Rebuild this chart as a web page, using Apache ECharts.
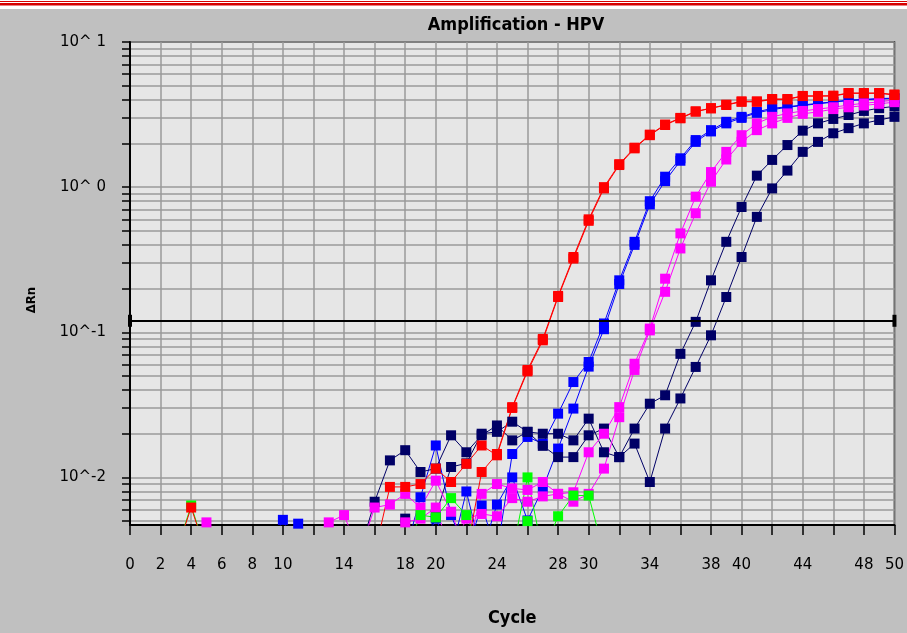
<!DOCTYPE html>
<html>
<head>
<meta charset="utf-8">
<title>Amplification - HPV</title>
<script src="https://cdn.jsdelivr.net/npm/echarts@6/dist/echarts.min.js"></script>
<style>
  html, body { margin: 0; padding: 0; background: #ffffff; }
  #chart { width: 907px; height: 633px; }
</style>
</head>
<body>
<div id="chart"></div>
<script>
// cycle numbers, one value per cycle in every series below
var cycles = [1, 2, 3, 4, 5, 6, 7, 8, 9, 10,
              11, 12, 13, 14, 15, 16, 17, 18, 19, 20,
              21, 22, 23, 24, 25, 26, 27, 28, 29, 30,
              31, 32, 33, 34, 35, 36, 37, 38, 39, 40,
              41, 42, 43, 44, 45, 46, 47, 48, 49, 50];

// 0.003 = below the bottom of the plot (not visible)
var red1 = [0.003, 0.003, 0.003, 0.0062, 0.003, 0.003, 0.003, 0.003, 0.003, 0.003,
            0.003, 0.003, 0.003, 0.003, 0.003, 0.003, 0.0086, 0.0086, 0.009, 0.0115,
            0.0093, 0.0124, 0.0166, 0.0142, 0.0301, 0.0538, 0.088, 0.175, 0.322, 0.586,
            0.98, 1.42, 1.85, 2.28, 2.68, 2.98, 3.31, 3.49, 3.68, 3.87,
            3.87, 4.02, 4.02, 4.24, 4.24, 4.24, 4.43, 4.43, 4.43, 4.31];
var red2 = [0.003, 0.003, 0.003, 0.003, 0.003, 0.003, 0.003, 0.003, 0.003, 0.003,
            0.003, 0.003, 0.003, 0.003, 0.003, 0.003, 0.003, 0.003, 0.003, 0.003,
            0.003, 0.003, 0.0109, 0.0145, 0.0305, 0.055, 0.09, 0.178, 0.33, 0.6,
            1.0, 1.44, 1.87, 2.3, 2.7, 3.0, 3.33, 3.5, 3.7, 3.9,
            3.9, 4.05, 4.05, 4.25, 4.25, 4.27, 4.45, 4.45, 4.45, 4.35];
var blue1 = [0.003, 0.003, 0.003, 0.003, 0.003, 0.003, 0.003, 0.003, 0.003, 0.0051,
             0.003, 0.003, 0.003, 0.003, 0.003, 0.003, 0.003, 0.003, 0.0073, 0.0166,
             0.0055, 0.003, 0.0064, 0.003, 0.0145, 0.019, 0.0171, 0.0275, 0.0454, 0.0624,
             0.115, 0.228, 0.42, 0.8, 1.18, 1.58, 2.11, 2.47, 2.82, 3.05,
             3.3, 3.49, 3.58, 3.68, 3.78, 3.87, 3.98, 4.02, 4.08, 4.1];
var blue2 = [0.003, 0.003, 0.003, 0.003, 0.003, 0.003, 0.003, 0.003, 0.003, 0.003,
             0.0048, 0.003, 0.003, 0.003, 0.003, 0.003, 0.003, 0.003, 0.003, 0.0052,
             0.003, 0.008, 0.003, 0.0065, 0.01, 0.00505, 0.0084, 0.0158, 0.0298, 0.058,
             0.105, 0.215, 0.4, 0.76, 1.1, 1.52, 2.05, 2.42, 2.75, 3.0,
             3.25, 3.42, 3.55, 3.65, 3.75, 3.85, 3.95, 4.0, 4.05, 4.08];
var magenta1 = [0.003, 0.003, 0.003, 0.003, 0.0049, 0.003, 0.003, 0.003, 0.003, 0.003,
                0.003, 0.003, 0.0049, 0.0055, 0.003, 0.0062, 0.0065, 0.0077, 0.0062, 0.0095,
                0.0058, 0.003, 0.0077, 0.009, 0.0084, 0.0082, 0.0093, 0.0077, 0.0079, 0.0149,
                0.02, 0.0305, 0.0607, 0.106, 0.234, 0.48, 0.86, 1.27, 1.75, 2.28,
                2.75, 3.05, 3.22, 3.35, 3.45, 3.55, 3.68, 3.78, 3.87, 3.98];
var magenta2 = [0.003, 0.003, 0.003, 0.003, 0.003, 0.003, 0.003, 0.003, 0.003, 0.003,
                0.003, 0.003, 0.003, 0.003, 0.003, 0.003, 0.003, 0.0049, 0.0052, 0.0062,
                0.003, 0.0052, 0.0056, 0.0054, 0.0072, 0.0068, 0.0074, 0.0077, 0.0068, 0.0077,
                0.0115, 0.026, 0.055, 0.103, 0.19, 0.378, 0.66, 1.09, 1.55, 2.05,
                2.47, 2.75, 3.0, 3.2, 3.3, 3.45, 3.55, 3.65, 3.75, 3.85];
var navy1 = [0.003, 0.003, 0.003, 0.003, 0.003, 0.003, 0.003, 0.003, 0.003, 0.003,
             0.003, 0.003, 0.003, 0.003, 0.003, 0.0068, 0.0131, 0.0154, 0.0109, 0.0115,
             0.0195, 0.0149, 0.0195, 0.0228, 0.018, 0.0206, 0.02, 0.02, 0.018, 0.0254,
             0.0149, 0.0138, 0.0217, 0.0322, 0.0368, 0.071, 0.118, 0.228, 0.42, 0.73,
             1.2, 1.54, 1.95, 2.45, 2.75, 2.95, 3.14, 3.35, 3.5, 3.6];
var navy2 = [0.003, 0.003, 0.003, 0.003, 0.003, 0.003, 0.003, 0.003, 0.003, 0.003,
             0.003, 0.003, 0.003, 0.003, 0.003, 0.003, 0.003, 0.0052, 0.003, 0.0055,
             0.0118, 0.0125, 0.02, 0.0206, 0.0242, 0.0206, 0.0165, 0.0138, 0.0138, 0.0195,
             0.0217, 0.0138, 0.0171, 0.0093, 0.0217, 0.035, 0.0577, 0.0953, 0.175, 0.33,
             0.624, 0.98, 1.3, 1.75, 2.05, 2.35, 2.55, 2.75, 2.9, 3.05];
var green1 = [0.003, 0.003, 0.003, 0.0064, 0.003, 0.003, 0.003, 0.003, 0.003, 0.003,
              0.003, 0.003, 0.003, 0.003, 0.003, 0.003, 0.003, 0.003, 0.0055, 0.0053,
              0.0072, 0.0055, 0.003, 0.003, 0.003, 0.01, 0.003, 0.0054, 0.0075, 0.0075,
              0.003, 0.003, 0.003, 0.003, 0.003, 0.003, 0.003, 0.003, 0.003, 0.003,
              0.003, 0.003, 0.003, 0.003, 0.003, 0.003, 0.003, 0.003, 0.003, 0.003];
var green2 = [0.003, 0.003, 0.003, 0.003, 0.003, 0.003, 0.003, 0.003, 0.003, 0.003,
              0.003, 0.003, 0.003, 0.003, 0.003, 0.003, 0.003, 0.003, 0.003, 0.003,
              0.003, 0.003, 0.003, 0.003, 0.003, 0.005, 0.003, 0.003, 0.003, 0.003,
              0.003, 0.003, 0.003, 0.003, 0.003, 0.003, 0.003, 0.003, 0.003, 0.003,
              0.003, 0.003, 0.003, 0.003, 0.003, 0.003, 0.003, 0.003, 0.003, 0.003];

var threshold = 0.121;
var xLabels = [0, 2, 4, 6, 8, 10, 14, 18, 20, 24, 28, 30, 34, 38, 40, 44, 48, 50];
var yLabels = [0.01, 0.1, 1, 10];

// gridlines / ticks at 1..9 of every decade
var yMin = 0.0047, yMax = 10;
var yGrid = [];
for (var e = -3; e <= 1; e++) {
    for (var m = 1; m <= 9; m++) {
        var v = +(m * Math.pow(10, e)).toPrecision(3);
        if (v >= yMin && v <= yMax) yGrid.push(v);
    }
}

function pairs(arr) {
    return cycles.map(function (c, i) { return [c, arr[i]]; });
}

function line(name, color, arr) {
    return {
        name: name,
        type: 'line',
        data: pairs(arr),
        symbol: 'rect',
        symbolSize: 10,
        showAllSymbol: true,
        clip: true,
        lineStyle: { color: color, width: 1 },
        itemStyle: { color: color },
        z: 3
    };
}

var font = 'DejaVu Sans';
var boldFont = '"DejaVu Sans Condensed", "DejaVu Sans"';
var chart = echarts.init(document.getElementById('chart'));

chart.setOption({
    animation: false,
    backgroundColor: '#c0c0c0',
    title: {
        text: 'Amplification - HPV',
        left: 511,
        top: 11,
        textAlign: 'center',
        textStyle: { fontFamily: boldFont, fontWeight: 'bold', fontSize: 18, color: '#000' }
    },
    graphic: [
        { type: 'rect', shape: { x: 0, y: 0, width: 907, height: 9 }, style: { fill: '#ffffff' }, silent: true },
        { type: 'rect', shape: { x: 0, y: 1, width: 907, height: 1 }, style: { fill: '#d60000' }, silent: true },
        { type: 'rect', shape: { x: 0, y: 3, width: 907, height: 2.5 }, style: { fill: '#d60000' }, silent: true },
        {
            type: 'text', x: 32, y: 300, rotation: Math.PI / 2,
            style: { text: 'ΔRn', textAlign: 'center', textVerticalAlign: 'middle',
                     font: 'bold 13px "DejaVu Sans Condensed", "DejaVu Sans"', fill: '#000' }
        }
    ],
    grid: {
        left: 130, right: 12, top: 42, bottom: 108,
        containLabel: false,
        show: true,
        backgroundColor: '#e6e6e6',
        borderColor: '#000',
        borderWidth: 1.5
    },
    xAxis: {
        type: 'value',
        min: 0, max: 50, interval: 2,
        name: 'Cycle',
        nameLocation: 'middle',
        nameGap: 84,
        nameTextStyle: { fontFamily: boldFont, fontWeight: 'bold', fontSize: 18, color: '#000' },
        axisLine: { show: true, lineStyle: { color: '#000', width: 2 } },
        axisTick: { show: true, length: 10, lineStyle: { color: '#000', width: 1.5 } },
        axisLabel: {
            margin: 33, fontFamily: font, fontSize: 15, color: '#000',
            showMinLabel: true, showMaxLabel: true,
            formatter: function (v) { return xLabels.indexOf(v) >= 0 ? String(v) : ''; }
        },
        splitLine: { show: true, lineStyle: { color: '#9a9a9a', width: 1.5 } }
    },
    yAxis: {
        type: 'log', logBase: 10,
        min: yMin, max: yMax,
        axisLine: { show: true, lineStyle: { color: '#000', width: 2 } },
        axisTick: { show: true, length: 8, customValues: yGrid, lineStyle: { color: '#000', width: 1.5 } },
        axisLabel: {
            customValues: yLabels, margin: 24, fontFamily: font, fontSize: 15, color: '#000',
            formatter: function (v) {
                var p = Math.round(Math.log(v) / Math.LN10);
                return '10^' + (p < 0 ? '-' + (-p) : ' ' + p);
            }
        },
        splitLine: { show: true, lineStyle: { color: '#9a9a9a', width: 1.5 } },
        minorSplitLine: { show: false }
    },
    series: [
        {
            name: 'threshold', type: 'line', data: [], z: 2,
            markLine: {
                silent: true,
                symbol: ['rect', 'rect'],
                symbolSize: [12, 4],
                label: { show: false },
                lineStyle: { color: '#000', width: 2, type: 'solid' },
                data: [{ yAxis: threshold }]
            }
        },
        line('blue 1', '#0000ff', blue1),
        line('blue 2', '#0000ff', blue2),
        line('navy 1', '#000066', navy1),
        line('navy 2', '#000066', navy2),
        line('magenta 1', '#ff00ff', magenta1),
        line('magenta 2', '#ff00ff', magenta2),
        line('green 1', '#00ff00', green1),
        line('green 2', '#00ff00', green2),
        line('red 1', '#ff0000', red1),
        line('red 2', '#ff0000', red2)
    ]
});
</script>
</body>
</html>
